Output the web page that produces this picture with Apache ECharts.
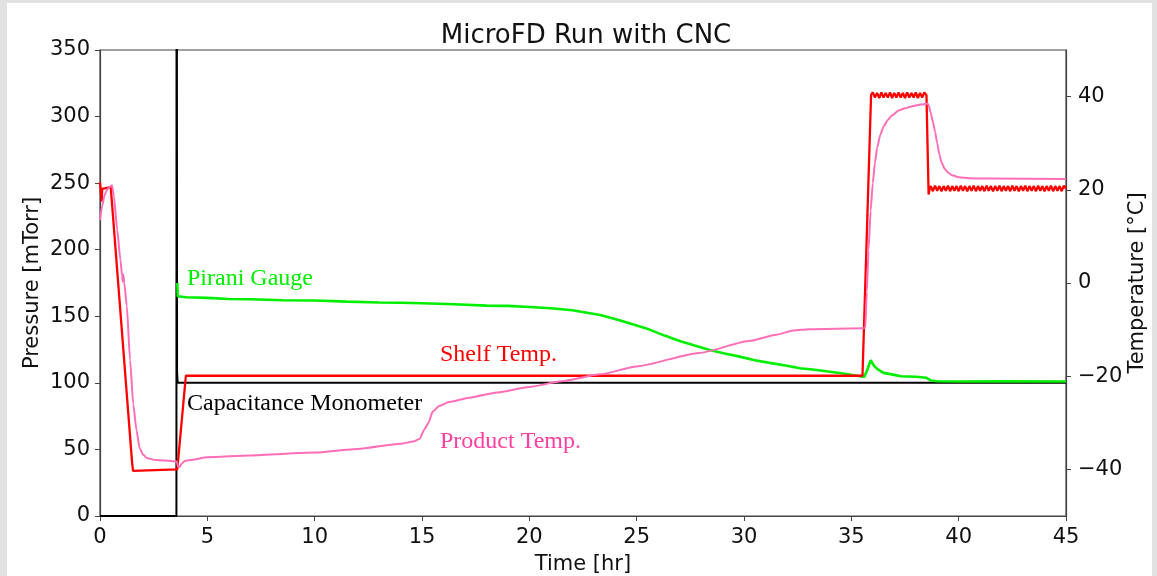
<!DOCTYPE html>
<html>
<head>
<meta charset="utf-8">
<script src="https://cdn.jsdelivr.net/npm/echarts@6/dist/echarts.min.js"></script>
<style>
html,body{margin:0;padding:0;background:#e2e2e2;}
#bg{position:absolute;left:7px;top:3px;width:1145px;height:573px;background:#fff;}
#chart{position:absolute;left:0;top:0;width:1157px;height:576px;}
</style>
</head>
<body>
<div id="bg"></div>
<div id="chart"></div>
<script>
// ---- Data (time in hours) ----
const capTime = [0, 3.56, 3.57, 3.59, 3.62, 5, 5.04, 5.08, 9.5, 9.54, 9.58, 14, 14.04, 14.08, 17.5, 17.54, 17.58, 21, 21.04, 21.08, 26, 26.04, 26.08, 30, 30.04, 30.08, 34.5, 34.54, 34.58, 38.6, 38.64, 38.68, 42.5, 42.54, 42.58, 45];
const capPressure = [0, 0, 800, 108, 100, 100, 101.2, 100, 100, 101.2, 100, 100, 101.2, 100, 100, 101.2, 100, 100, 101.2, 100, 100, 101.2, 100, 100, 101.2, 100, 100, 101.2, 100, 100, 101.2, 100, 100, 101.2, 100, 100];

const piraniTime = [3.6,3.62,3.7,4,5,6,7,8.5,10,11.5,13,14,15,16.5,18,19,20,21,22,23.3,24.2,25,25.6,26.3,27,27.7,28.4,29.1,29.8,30.5,31.2,32,32.6,33.3,34,34.7,35.4,35.6,35.75,35.9,36.05,36.2,36.5,37,37.3,38,38.5,38.7,39,40,42,45];
const piraniPressure = [175,165,164.5,164.3,163.8,163,162.8,162,161.8,161,160.3,160.2,159.8,159,158,157.8,157,156,154.5,151,147,143,140,135.5,131.5,128,124.7,122,119.7,117,115,112.8,111,109.8,108.4,106.8,105,104.4,110,117,113,110.5,107.5,106,105,104.6,103.8,101.8,101.2,101,101.2,101];

const shelfTime = [0,0.06,0.08,0.1,0.13,0.5,0.56,1.5,1.54,1.6,3.6,3.63,4.0,35.52,35.55,35.92,
  36.0,36.1,36.2,36.3,36.4,36.5,36.6,36.7,36.8,36.9,37.0,37.1,37.2,37.3,37.4,37.5,37.6,37.7,37.8,37.9,38.0,38.1,38.2,38.3,38.4,38.5,
  38.55,38.6,38.65,
  38.7,38.8,38.9,39.0,39.1,39.2,39.3,39.4,39.5,39.6,39.7,39.8,39.9,40.0,40.1,40.2,40.3,40.4,40.5,40.6,40.7,40.8,40.9,41.0,
  41.1,41.2,41.3,41.4,41.5,41.6,41.7,41.8,41.9,42.0,42.1,42.2,42.3,42.4,42.5,42.6,42.7,42.8,42.9,43.0,
  43.1,43.2,43.3,43.4,43.5,43.6,43.7,43.8,43.9,44.0,44.1,44.2,44.3,44.4,44.5,44.6,44.7,44.8,44.9,45.0];
const shelfTemp = [21.6,21.6,17.5,20.2,20.4,20.6,20.6,-38.8,-40.3,-40,-40,-40.2,-19.9,-19.9,-20.1,40.4,
  40.9,39.8,40.8,39.7,40.9,39.8,40.8,39.8,40.9,39.7,40.8,39.8,40.9,39.8,40.8,39.7,40.9,39.8,40.8,39.8,40.9,39.7,40.8,39.8,40.9,40.3,
  40.3,19.0,20.3,
  20.8,19.7,20.9,19.8,20.8,19.7,20.8,19.8,20.9,19.7,20.8,19.8,20.8,19.7,20.9,19.8,
  20.8,19.7,20.8,19.8,20.9,19.7,20.8,19.8,20.8,19.7,20.9,19.8,20.8,19.7,20.8,19.8,
  20.9,19.7,20.8,19.8,20.8,19.7,20.9,19.8,20.8,19.7,20.8,19.8,20.9,19.7,20.8,19.8,
  20.8,19.7,20.9,19.8,20.8,19.7,20.8,19.8,20.9,19.7,20.8,19.8,20.8,19.7,20.9,20.2];

const productTime = [0,0.1,0.2,0.3,0.4,0.5,0.56,0.65,0.8,0.95,1.03,1.06,1.09,1.13,1.25,1.4,1.55,1.7,1.85,2.0,2.2,2.6,3.0,3.58,3.63,3.7,3.8,3.95,4.2,5.0,7.0,10.0,12.0,14.0,14.6,14.9,15.1,15.3,15.5,15.8,16.3,17.2,18.5,20.0,21.5,23.3,25.0,27.9,30.3,31.5,32.3,33.0,35.55,
  35.65,35.72,35.8,35.9,36.0,36.1,36.2,36.35,36.5,36.7,36.9,37.2,37.5,37.8,38.1,38.45,38.55,
  38.6,38.7,38.8,38.9,39.0,39.1,39.2,39.35,39.5,39.7,40.0,40.5,41.5,45];
const productTemp = [13.5,16.5,18.6,19.8,20.4,20.8,21,18.5,11.5,5,1.5,0.3,1.8,0,-5,-16.5,-26,-31.6,-35.5,-36.8,-37.6,-38,-38.1,-38.3,-39.4,-39.5,-38.8,-38.2,-38,-37.4,-37,-36.4,-35.6,-34.5,-34,-33.4,-31.5,-30,-27.6,-26.4,-25.5,-24.6,-23.5,-22.3,-21.1,-19.6,-17.9,-15,-12.4,-11.1,-10.2,-9.9,-9.7,
  -9.6,-2,7,15.5,21.5,25.8,29,31.8,33.6,35,36,37,37.5,37.9,38.2,38.4,38.5,
  38.2,36.5,34.6,32.5,30,27.6,25.9,24.5,23.7,23.1,22.7,22.5,22.4,22.3];

const xTicks = [0,5,10,15,20,25,30,35,40,45];
const tempTicks = [-40,-20,0,20,40];

const zip = (a, b) => a.map((v, i) => [v, b[i]]);
const fmt = v => (v < 0 ? '\u2212' + Math.abs(v) : String(v));

const chart = echarts.init(document.getElementById('chart'), null, {renderer: 'canvas'});
const axisFont = {fontFamily: 'DejaVu Sans', fontSize: 21, color: '#111'};
const annFont = '24px "Liberation Serif"';

chart.setOption({
  backgroundColor: 'transparent',
  animation: false,
  title: {
    text: 'MicroFD Run with CNC',
    left: 581, top: 18, textAlign: 'center',
    textStyle: {fontFamily: 'DejaVu Sans', fontSize: 26, fontWeight: 'normal', color: '#111'}
  },
  grid: {left: 100, right: 91, top: 50, bottom: 60, outerBoundsMode: 'none', containLabel: false,
         show: true, borderColor: '#444', borderWidth: 1.2, backgroundColor: '#fff'},
  xAxis: {
    type: 'value', min: 0, max: 45, interval: 5,
    name: 'Time [hr]', nameLocation: 'middle', nameGap: 38,
    nameTextStyle: axisFont,
    axisLine: {show: true, onZero: false, lineStyle: {color: '#444', width: 1.2}},
    axisTick: {show: true, length: 5, lineStyle: {color: '#444'}},
    axisLabel: Object.assign({margin: 11}, axisFont),
    splitLine: {show: false}
  },
  yAxis: [
    {
      type: 'value', min: 0, max: 350, interval: 50,
      name: 'Pressure [mTorr]', nameLocation: 'middle', nameGap: 57, nameRotate: 90, nameMoveOverlap: false,
      nameTextStyle: axisFont,
      axisLine: {show: true, lineStyle: {color: '#444', width: 1.2}},
      axisTick: {show: true, length: 5, lineStyle: {color: '#444'}},
      axisLabel: Object.assign({margin: 10}, axisFont),
      splitLine: {show: false}
    },
    {
      type: 'value', min: -50, max: 50, position: 'right',
      name: 'Temperature [\u00b0C]', nameLocation: 'middle', nameGap: 61, nameRotate: 90, nameMoveOverlap: false,
      nameTextStyle: axisFont,
      axisLine: {show: true, lineStyle: {color: '#444', width: 1.2}},
      axisTick: {show: true, length: 5, customValues: tempTicks, lineStyle: {color: '#444'}},
      axisLabel: Object.assign({margin: 12, customValues: tempTicks, formatter: fmt}, axisFont),
      splitLine: {show: false}
    }
  ],
  series: [
    {name: 'Capacitance Monometer', type: 'line', yAxisIndex: 0, data: zip(capTime, capPressure),
     showSymbol: false, lineStyle: {color: '#000', width: 2}, clip: true, z: 2},
    {name: 'Pirani Gauge', type: 'line', yAxisIndex: 0, data: zip(piraniTime, piraniPressure),
     showSymbol: false, lineStyle: {color: '#00ee00', width: 2.6}, clip: true, z: 3},
    {name: 'Shelf Temp.', type: 'line', yAxisIndex: 1, data: zip(shelfTime, shelfTemp),
     showSymbol: false, lineStyle: {color: '#ff0000', width: 2.3}, clip: true, z: 4},
    {name: 'Product Temp.', type: 'line', yAxisIndex: 1, data: zip(productTime, productTemp),
     showSymbol: false, smooth: 0.2, smoothMonotone: 'x', lineStyle: {color: '#ff6eb6', width: 2}, clip: true, z: 5}
  ],
  graphic: [
    {type: 'text', left: 187, top: 267, z: 10, style: {text: 'Pirani Gauge', fill: '#00ee00', font: annFont}},
    {type: 'text', left: 440, top: 343, z: 10, style: {text: 'Shelf Temp.', fill: '#ff0000', font: annFont}},
    {type: 'text', left: 187, top: 392, z: 10, style: {text: 'Capacitance Monometer', fill: '#000', font: annFont}},
    {type: 'text', left: 440, top: 430, z: 10, style: {text: 'Product Temp.', fill: '#ff3fa0', font: annFont}}
  ]
});
</script>
</body>
</html>
